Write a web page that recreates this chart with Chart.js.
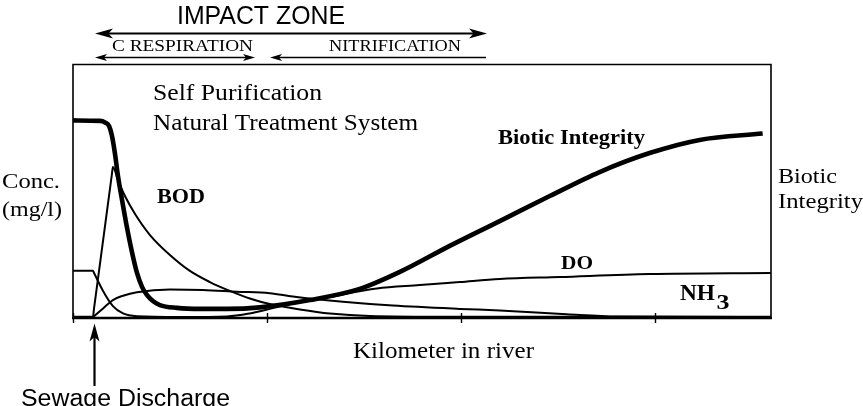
<!DOCTYPE html>
<html lang="en">
  <head>
    <meta charset="UTF-8" />
    <title>Self Purification</title>
    <style>
      html, body { margin: 0; padding: 0; background: #fff; }
      .wrap { width: 863px; height: 406px; }
    </style>
  </head>
  <body>
    <div class="wrap">
      <canvas id="chart" width="863" height="406"></canvas>
    </div>
    <script src="https://cdn.jsdelivr.net/npm/chart.js"></script>
    <script>
      // km along the river and concentrations
      const kmTicks = [0, 1, 2, 3];

      const bioticKm = [0, 0.14, 0.165, 0.186, 0.2, 0.216, 0.232, 0.253, 0.278, 0.304, 0.33, 0.356, 0.381, 0.412, 0.448, 0.536, 0.655, 0.794, 0.964, 1.222, 1.479, 1.686, 1.943, 2.201, 2.459, 2.716, 2.974, 3.232, 3.557];
      const biotic = [7.81, 7.79, 7.73, 7.59, 7.23, 6.52, 5.61, 4.66, 3.59, 2.61, 1.78, 1.23, 0.91, 0.67, 0.51, 0.4, 0.36, 0.36, 0.42, 0.71, 1.15, 1.82, 2.85, 3.83, 4.82, 5.77, 6.52, 7.04, 7.29];

      const bodKm = [0, 0.103, 0.108, 0.2, 0.206, 0.232, 0.268, 0.32, 0.397, 0.5, 0.603, 0.706, 0.809, 0.912, 1.015, 1.17, 1.325, 1.531, 1.943, 3.6];
      const bod = [0.05, 0.05, 0.35, 5.65, 5.97, 5.45, 4.82, 4.11, 3.28, 2.49, 1.86, 1.42, 1.07, 0.77, 0.55, 0.34, 0.18, 0.08, 0.05, 0.05];

      const doKm = [0, 0.103, 0.108, 0.155, 0.206, 0.258, 0.33, 0.552, 0.794, 0.912, 1.015, 1.17, 1.309, 1.567, 1.789, 1.995, 2.201, 2.51, 2.974, 3.6];
      const dissolvedO2 = [1.87, 1.87, 1.79, 1.07, 0.47, 0.18, 0.07, 0.04, 0.06, 0.18, 0.36, 0.63, 0.81, 1.17, 1.3, 1.42, 1.54, 1.62, 1.74, 1.78];

      const nh3Km = [0, 0.103, 0.108, 0.155, 0.206, 0.258, 0.33, 0.5, 0.67, 0.845, 1.015, 1.134, 1.392, 1.649, 1.995, 2.201, 2.546, 2.804, 3.6];
      const nh3 = [0.04, 0.04, 0.07, 0.38, 0.71, 0.88, 1.02, 1.13, 1.11, 1.04, 0.98, 0.85, 0.64, 0.49, 0.36, 0.3, 0.15, 0.06, 0.04];

      const pts = (xs, ys) => xs.map((x, i) => ({ x: x, y: ys[i] }));

      const SERIF = "'Liberation Serif', 'Times New Roman', serif";
      const SANS = "'Liberation Sans', Arial, sans-serif";

      // draw text squeezed/stretched to a given width
      function fitText(ctx, text, x, y, w, font) {
        ctx.font = font;
        const m = ctx.measureText(text).width;
        ctx.save();
        ctx.translate(x, y);
        ctx.scale(w / m, 1);
        ctx.fillText(text, 0, 0);
        ctx.restore();
      }

      function head(ctx, x, y, dx, dy, len, hw) {
        const px = -dy, py = dx;
        ctx.beginPath();
        ctx.moveTo(x, y);
        ctx.lineTo(x - dx * len + px * hw, y - dy * len + py * hw);
        ctx.lineTo(x - dx * len * 0.75, y - dy * len * 0.75);
        ctx.lineTo(x - dx * len - px * hw, y - dy * len - py * hw);
        ctx.closePath();
        ctx.fill();
      }

      function arrow(ctx, x1, y1, x2, y2, lw, len, hw, startHead, endHead) {
        const d = Math.hypot(x2 - x1, y2 - y1);
        const dx = (x2 - x1) / d, dy = (y2 - y1) / d;
        ctx.lineWidth = lw;
        ctx.beginPath();
        ctx.moveTo(x1 + (startHead ? dx * len * 0.7 : 0), y1 + (startHead ? dy * len * 0.7 : 0));
        ctx.lineTo(x2 - (endHead ? dx * len * 0.7 : 0), y2 - (endHead ? dy * len * 0.7 : 0));
        ctx.stroke();
        if (endHead) head(ctx, x2, y2, dx, dy, len, hw);
        if (startHead) head(ctx, x1, y1, -dx, -dy, len, hw);
      }

      const sketchPlugin = {
        id: "sketch",
        afterDraw(chart) {
          const ctx = chart.ctx;
          const a = chart.chartArea;
          const xs = chart.scales.x;
          ctx.save();
          ctx.fillStyle = "#000";
          ctx.strokeStyle = "#000";
          ctx.lineCap = "butt";

          // frame
          ctx.lineWidth = 1.6;
          ctx.beginPath();
          ctx.moveTo(a.left, a.bottom);
          ctx.lineTo(a.left, a.top - 0.5);
          ctx.lineTo(a.right, a.top - 0.5);
          ctx.lineTo(a.right, a.bottom);
          ctx.stroke();
          ctx.lineWidth = 2.4;
          ctx.beginPath();
          ctx.moveTo(a.left - 1, a.bottom);
          ctx.lineTo(a.right + 1, a.bottom);
          ctx.stroke();

          // ticks crossing the axis
          ctx.lineWidth = 1.4;
          kmTicks.forEach((t) => {
            const x = Math.round(xs.getPixelForValue(t)) + 0.5;
            ctx.beginPath();
            ctx.moveTo(x, a.bottom - 5);
            ctx.lineTo(x, a.bottom + 5);
            ctx.stroke();
          });

          // impact zone header
          fitText(ctx, "IMPACT ZONE", 177, 23.5, 168, "25px " + SANS);
          arrow(ctx, 95, 33.5, 487, 33.5, 2.2, 18, 5, true, true);
          fitText(ctx, "C RESPIRATION", 112, 50.5, 141, "17.5px " + SERIF);
          fitText(ctx, "NITRIFICATION", 329, 50.5, 132, "17.5px " + SERIF);
          arrow(ctx, 95, 57.5, 255, 57.5, 1.6, 12, 3.6, true, true);
          arrow(ctx, 270, 57.5, 486, 57.5, 1.6, 12, 3.6, true, false);

          // labels inside the plot
          fitText(ctx, "Self Purification", 153, 99.5, 169, "23.5px " + SERIF);
          fitText(ctx, "Natural Treatment System", 153, 129.5, 265, "23.5px " + SERIF);
          fitText(ctx, "BOD", 157, 203, 48, "bold 20.5px " + SERIF);
          fitText(ctx, "Biotic Integrity", 498, 143.5, 147, "bold 22px " + SERIF);
          fitText(ctx, "DO", 561, 268.5, 32, "bold 18.5px " + SERIF);
          fitText(ctx, "NH", 680, 300, 35, "bold 24px " + SERIF);
          fitText(ctx, "3", 716.5, 308.5, 13, "bold 22px " + SERIF);

          // side and bottom captions
          fitText(ctx, "Conc.", 2, 188, 58, "21.5px " + SERIF);
          fitText(ctx, "(mg/l)", 2, 216, 60, "21.5px " + SERIF);
          fitText(ctx, "Biotic", 778, 183, 59, "22px " + SERIF);
          fitText(ctx, "Integrity", 778, 208, 85, "22px " + SERIF);
          fitText(ctx, "Kilometer in river", 353, 357.5, 181, "23px " + SERIF);
          fitText(ctx, "Sewage Discharge", 21, 406, 209, "23.5px " + SANS);
          arrow(ctx, 94.5, 386, 94.5, 323.5, 2.2, 18, 5, false, true);

          ctx.restore();
        },
      };

      new Chart(document.getElementById("chart"), {
        type: "line",
        data: {
          datasets: [
            {
              label: "Biotic Integrity",
              data: pts(bioticKm, biotic),
              borderColor: "#000",
              borderWidth: 4.6,
            },
            {
              label: "BOD",
              data: pts(bodKm, bod),
              borderColor: "#000",
              borderWidth: 2,
            },
            {
              label: "DO",
              data: pts(doKm, dissolvedO2),
              borderColor: "#000",
              borderWidth: 2,
            },
            {
              label: "NH3",
              data: pts(nh3Km, nh3),
              borderColor: "#000",
              borderWidth: 2,
            },
          ],
        },
        plugins: [sketchPlugin],
        options: {
          responsive: false,
          animation: false,
          layout: {
            padding: { left: 73, right: 92, top: 65, bottom: 88 },
          },
          elements: {
            point: { radius: 0 },
            line: { cubicInterpolationMode: "monotone", fill: false },
          },
          scales: {
            x: { type: "linear", min: 0, max: 3.6, display: false },
            y: { min: 0, max: 10, display: false },
          },
          plugins: {
            legend: { display: false },
            tooltip: { enabled: false },
          },
        },
      });
    </script>
  </body>
</html>
